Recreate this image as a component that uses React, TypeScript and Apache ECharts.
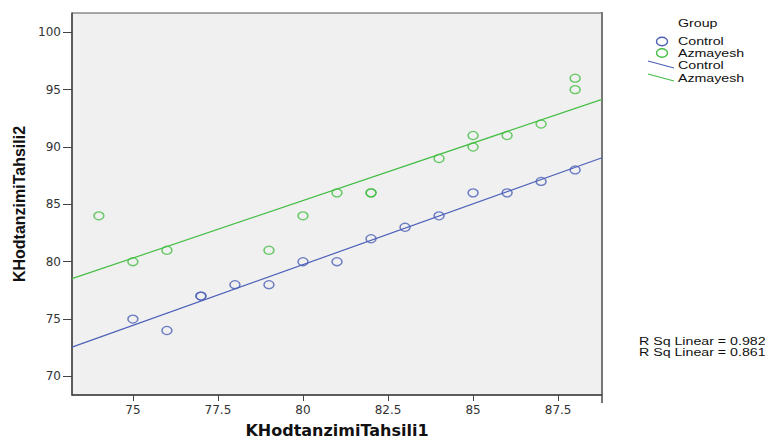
import React, { useEffect, useRef } from "react";
import * as echarts from "echarts";

const xTicks = [75, 77.5, 80, 82.5, 85, 87.5];
const yTicks = [70, 75, 80, 85, 90, 95, 100];

const controlX = [75, 76, 77, 77, 78, 79, 80, 81, 82, 83, 84, 85, 86, 87, 88];
const controlY = [75, 74, 77, 77, 78, 78, 80, 80, 82, 83, 84, 86, 86, 87, 88];

const azmayeshX = [74, 75, 76, 79, 80, 81, 82, 82, 84, 85, 85, 86, 87, 88, 88];
const azmayeshY = [84, 80, 81, 81, 84, 86, 86, 86, 89, 91, 90, 91, 92, 96, 95];

// fit line endpoints (at the x-axis extent)
const xRange = [73.21, 88.79];
const yRange = [68.38, 101.68];
const controlFit = [72.55, 89.06];
const azmayeshFit = [78.52, 94.15];

const rSq = ["R Sq Linear = 0.982", "R Sq Linear = 0.861"];
const legendTitle = "Group";
const groupNames = ["Control", "Azmayesh"];

const BLUE = "#4C60B8";
const GREEN = "#45BE45";

export default function App() {
  const ref = useRef<HTMLDivElement>(null);
  useEffect(() => {
    if (!ref.current) return;
    const chart = echarts.init(ref.current, null, { renderer: "svg" });
    const pts = (xs: number[], ys: number[]) => xs.map((x, i) => [x, ys[i]]);
    const legendText = (text: string, y: number) => ({
      type: "text",
      x: 678,
      y,
      scaleX: 1.42,
      style: {
        text,
        fill: "#111",
        font: "10px 'Liberation Sans', Arial, sans-serif",
        verticalAlign: "middle",
      },
    });
    chart.setOption({
      animation: false,
      backgroundColor: "#ffffff",
      grid: {
        left: 72,
        top: 13,
        right: 163,
        bottom: 41,
        show: true,
        backgroundColor: "#F0F0F0",
        borderColor: "#555",
        borderWidth: 1,
      },
      xAxis: {
        type: "value",
        min: xRange[0],
        max: xRange[1],
        name: "KHodtanzimiTahsili1",
        nameLocation: "middle",
        nameGap: 27,
        nameTextStyle: {
          fontFamily: "'DejaVu Sans', sans-serif",
          fontWeight: "bold",
          fontSize: 16,
          color: "#111",
        },
        splitLine: { show: false },
        axisLine: { show: true, lineStyle: { color: "#444", width: 1.5 } },
        axisTick: { show: true, length: 6, customValues: xTicks, lineStyle: { color: "#444" } },
        axisLabel: {
          customValues: xTicks,
          color: "#333",
          fontFamily: "'DejaVu Sans', sans-serif",
          fontSize: 12,
          margin: 9,
        },
      },
      yAxis: {
        type: "value",
        min: yRange[0],
        max: yRange[1],
        name: "KHodtanzimiTahsili2",
        nameLocation: "middle",
        nameGap: 44,
        nameRotate: 90,
        nameTextStyle: {
          fontFamily: "'Liberation Sans', Arial, sans-serif",
          fontWeight: "bold",
          fontSize: 16,
          color: "#111",
        },
        splitLine: { show: false },
        axisLine: { show: true, lineStyle: { color: "#444", width: 1.5 } },
        axisTick: { show: true, length: 9, customValues: yTicks, lineStyle: { color: "#444" } },
        axisLabel: {
          customValues: yTicks,
          color: "#333",
          fontFamily: "'DejaVu Sans', sans-serif",
          fontSize: 12,
          margin: 11,
        },
      },
      series: [
        {
          type: "line",
          data: [[xRange[0], controlFit[0]], [xRange[1], controlFit[1]]],
          showSymbol: false,
          lineStyle: { color: BLUE, width: 1.2 },
          silent: true,
        },
        {
          type: "line",
          data: [[xRange[0], azmayeshFit[0]], [xRange[1], azmayeshFit[1]]],
          showSymbol: false,
          lineStyle: { color: GREEN, width: 1.2 },
          silent: true,
        },
        {
          type: "scatter",
          name: groupNames[0],
          data: pts(controlX, controlY),
          symbol: "circle",
          symbolSize: [10, 8],
          itemStyle: { color: "transparent", borderColor: BLUE, borderWidth: 1.4 },
        },
        {
          type: "scatter",
          name: groupNames[1],
          data: pts(azmayeshX, azmayeshY),
          symbol: "circle",
          symbolSize: [10, 8],
          itemStyle: { color: "transparent", borderColor: GREEN, borderWidth: 1.4 },
        },
      ],
      graphic: [
        {
          type: "line",
          shape: { x1: 602, y1: 12, x2: 602, y2: 403 },
          style: { stroke: "#777", lineWidth: 2 },
        },
        legendText(legendTitle, 24),
        {
          type: "ellipse",
          shape: { cx: 662, cy: 41.5, rx: 5.5, ry: 4.2 },
          style: { fill: "none", stroke: BLUE, lineWidth: 1.4 },
        },
        legendText(groupNames[0], 41.5),
        {
          type: "ellipse",
          shape: { cx: 662, cy: 53, rx: 5.5, ry: 4.2 },
          style: { fill: "none", stroke: GREEN, lineWidth: 1.4 },
        },
        legendText(groupNames[1], 53.5),
        {
          type: "line",
          shape: { x1: 648, y1: 61, x2: 674, y2: 68 },
          style: { stroke: BLUE, lineWidth: 1.2 },
        },
        legendText(groupNames[0], 65.5),
        {
          type: "line",
          shape: { x1: 648, y1: 74, x2: 674, y2: 81 },
          style: { stroke: GREEN, lineWidth: 1.2 },
        },
        legendText(groupNames[1], 79),
        {
          type: "text",
          x: 639,
          y: 342,
          scaleX: 1.42,
          style: { text: rSq[0], fill: "#111", font: "10px 'Liberation Sans', Arial, sans-serif", verticalAlign: "middle" },
        },
        {
          type: "text",
          x: 639,
          y: 352.5,
          scaleX: 1.42,
          style: { text: rSq[1], fill: "#111", font: "10px 'Liberation Sans', Arial, sans-serif", verticalAlign: "middle" },
        },
      ],
    });
    return () => chart.dispose();
  }, []);
  return (
    <div
      ref={ref}
      style={{ position: "fixed", left: 0, top: 0, width: 765, height: 443, background: "#fff" }}
    />
  );
}
